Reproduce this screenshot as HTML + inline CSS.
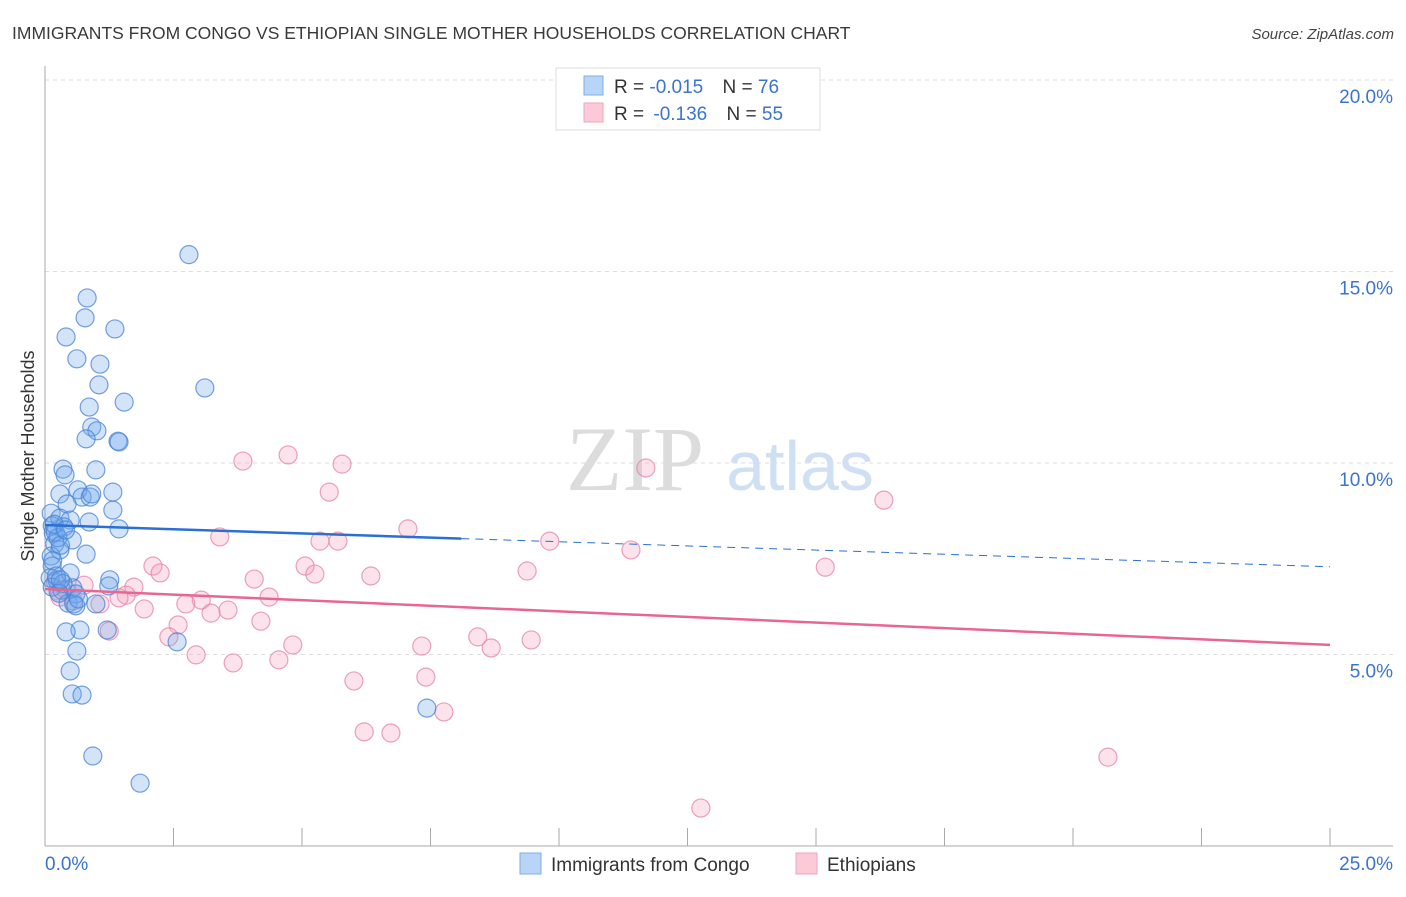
<!DOCTYPE html>
<html><head><meta charset="utf-8"><style>
body{margin:0;background:#fff;width:1406px;height:892px;overflow:hidden;font-family:"Liberation Sans",sans-serif}
</style></head><body>
<svg id="chart" width="1406" height="892" xmlns="http://www.w3.org/2000/svg" font-family="Liberation Sans, sans-serif">
<text x="12" y="39" font-size="17.5" fill="#3a3a3a">IMMIGRANTS FROM CONGO VS ETHIOPIAN SINGLE MOTHER HOUSEHOLDS CORRELATION CHART</text>
<text x="1394" y="39" font-size="15" fill="#444" font-style="italic" text-anchor="end">Source: ZipAtlas.com</text>
<text transform="translate(34,456) rotate(-90)" font-size="18" fill="#333" text-anchor="middle">Single Mother Households</text>
<g id="grid"></g>
<g>
<text x="635" y="490" font-size="92" fill="#dcdcdc" font-family="Liberation Serif, serif" text-anchor="middle">ZIP</text>
<text x="800" y="490" font-size="70" fill="#cfe0f4" text-anchor="middle">atlas</text>
</g>
<g id="axes"></g>
<g id="pts"></g>
<g id="trend"></g>
<g>
<rect x="556" y="68" width="264" height="62" fill="#fff" stroke="#ddd"/>
<rect x="584" y="76" width="19" height="19" fill="#b8d4f6" stroke="#7eaee8"/>
<text x="614" y="93" font-size="19" fill="#333">R = <tspan fill="#3a74d0">-0.015</tspan>  <tspan dx="14">N = </tspan><tspan fill="#3a74d0">76</tspan></text>
<rect x="584" y="103" width="19" height="19" fill="#fbc9d8" stroke="#eea6bd"/>
<text x="614" y="120" font-size="19" fill="#333">R = <tspan fill="#3a74d0" dx="4">-0.136</tspan>  <tspan dx="14">N = </tspan><tspan fill="#3a74d0">55</tspan></text>
</g>
<g>
<rect x="520" y="853" width="21" height="21" fill="#b8d4f6" stroke="#7eaee8"/>
<text x="551" y="871" font-size="19" fill="#333">Immigrants from Congo</text>
<rect x="796" y="853" width="21" height="21" fill="#fbc9d8" stroke="#eea6bd"/>
<text x="827" y="871" font-size="19" fill="#333">Ethiopians</text>
</g>
</svg>
<script>
const blueX=[2.80,0.82,0.78,1.36,0.41,0.62,1.07,1.05,3.11,1.54,0.86,0.91,1.01,0.80,1.42,1.44,0.35,0.39,0.99,0.29,0.64,1.32,0.72,0.88,0.43,0.91,1.32,0.12,0.29,0.49,0.86,0.14,0.37,1.44,0.16,0.53,0.19,0.29,0.80,0.12,0.14,0.49,0.10,0.23,1.26,1.24,0.14,0.54,0.33,0.60,0.45,0.56,0.60,0.99,1.21,0.68,0.41,2.57,0.62,0.49,0.53,0.72,7.43,0.93,1.85,0.20,0.25,0.30,0.15,0.22,0.35,0.27,0.18,0.40,0.30,0.65];
const blueY=[15.44,14.31,13.79,13.50,13.29,12.72,12.58,12.04,11.96,11.59,11.46,10.94,10.84,10.63,10.57,10.55,9.84,9.69,9.82,9.19,9.30,9.24,9.11,9.11,8.93,9.19,8.77,8.69,8.56,8.51,8.46,8.36,8.33,8.28,8.17,7.99,7.89,7.73,7.62,7.57,7.31,7.13,7.00,6.95,6.95,6.79,6.76,6.74,6.68,6.58,6.34,6.32,6.27,6.32,5.64,5.64,5.59,5.33,5.09,4.57,3.97,3.94,3.60,2.35,1.64,8.20,8.05,7.85,7.45,7.05,6.85,6.60,8.40,8.25,6.95,6.45];
const pinkX=[4.73,3.85,5.78,11.69,5.53,16.32,7.06,3.40,5.35,5.70,9.82,11.40,2.10,5.06,9.38,15.18,2.24,5.25,4.07,6.34,0.76,1.73,0.25,1.58,1.44,4.36,3.04,2.74,1.07,1.93,3.56,3.23,4.20,2.59,1.25,2.41,4.82,8.42,9.46,7.33,8.68,2.94,4.55,3.66,7.41,6.01,7.76,6.21,6.73,20.68,12.76,0.29,0.40,0.55,0.20];
const pinkY=[10.21,10.05,9.97,9.87,9.24,9.03,8.28,8.07,7.96,7.96,7.96,7.73,7.31,7.31,7.18,7.28,7.13,7.10,6.97,7.05,6.81,6.76,6.66,6.55,6.48,6.50,6.42,6.32,6.32,6.19,6.16,6.08,5.87,5.77,5.61,5.46,5.25,5.46,5.38,5.22,5.17,4.99,4.86,4.78,4.41,4.31,3.50,2.98,2.95,2.32,0.99,6.50,6.70,6.40,6.90];
const yTicks=[5,10,15,20];
const yTickLabels=["5.0%","10.0%","15.0%","20.0%"];
const blueTrend=[8.38,7.29];
const pinkTrend=[6.71,5.25];
const blueSolidEnd=8.1;
const NS="http://www.w3.org/2000/svg";
const X=v=>45+v*51.4, Y=v=>846-v*38.3;
function mk(tag,at,par){const e=document.createElementNS(NS,tag);for(const k in at)e.setAttribute(k,at[k]);par.appendChild(e);return e;}
const grid=document.getElementById('grid'),axes=document.getElementById('axes'),pts=document.getElementById('pts'),tr=document.getElementById('trend');
yTicks.forEach((t,i)=>{
 const l=mk('line',{x1:45,x2:1393,y1:Y(t),y2:Y(t),stroke:'#ddd','stroke-dasharray':'4,4'},grid);
 
 
 const tx=mk('text',{x:1393,y:Y(t)+23,'font-size':19,fill:'#3a74d0','text-anchor':'end'},axes);
 tx.textContent=yTickLabels[i];
 
 
});
mk('line',{x1:45,x2:45,y1:66,y2:846,stroke:'#aaa'},axes);
mk('line',{x1:45,x2:1393,y1:846,y2:846,stroke:'#aaa'},axes);
for(let i=0;i<=10;i++){mk('line',{x1:X(i*2.5),x2:X(i*2.5),y1:828,y2:846,stroke:'#aaa'},axes);}
let t0=mk('text',{x:45,y:870,'font-size':19,fill:'#3a74d0'},axes);t0.textContent='0.0%';


let t1=mk('text',{x:1393,y:870,'font-size':19,fill:'#3a74d0','text-anchor':'end'},axes);t1.textContent='25.0%';


pinkX.forEach((x,i)=>{const c=mk('circle',{cx:X(x),cy:Y(pinkY[i]),r:9,fill:'rgba(245,160,190,0.3)',stroke:'rgba(230,130,165,0.75)','stroke-width':1.2},pts);
 
 });
blueX.forEach((x,i)=>{const c=mk('circle',{cx:X(x),cy:Y(blueY[i]),r:9,fill:'rgba(110,165,235,0.3)',stroke:'rgba(70,130,215,0.75)','stroke-width':1.2},pts);
 
 });
const bAt=v=>blueTrend[0]+(blueTrend[1]-blueTrend[0])*v/25;
let b1=mk('line',{x1:X(0),y1:Y(blueTrend[0]),x2:X(blueSolidEnd),y2:Y(bAt(blueSolidEnd)),stroke:'#2a6fd6','stroke-width':2.5},tr);


let b2=mk('line',{x1:X(blueSolidEnd),y1:Y(bAt(blueSolidEnd)),x2:X(25),y2:Y(blueTrend[1]),stroke:'#2a6fd6','stroke-width':1,'stroke-dasharray':'8,6'},tr);


let p1=mk('line',{x1:X(0),y1:Y(pinkTrend[0]),x2:X(25),y2:Y(pinkTrend[1]),stroke:'#e8668f','stroke-width':2.5},tr);


</script>
</body></html>
